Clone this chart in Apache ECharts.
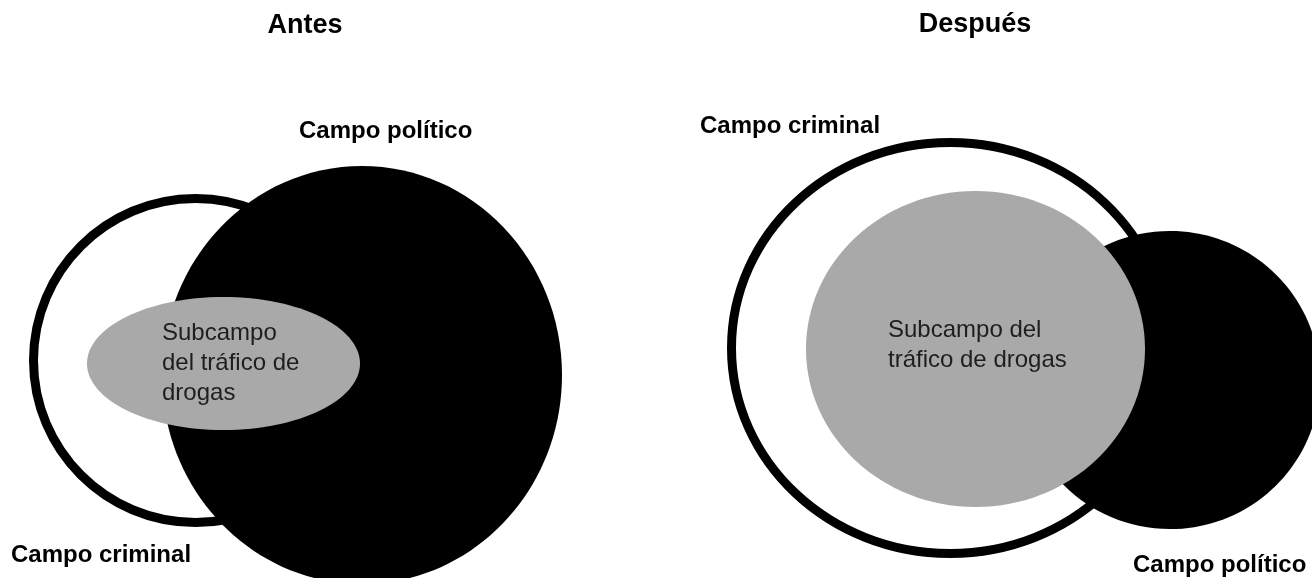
<!DOCTYPE html>
<html>
<head>
<meta charset="utf-8">
<script src="https://cdn.jsdelivr.net/npm/echarts@6/dist/echarts.min.js"></script>
<style>
html,body{margin:0;padding:0;background:#fff;}
#chart{width:1312px;height:578px;}
</style>
</head>
<body>
<div id="chart"></div>
<script>
// ---- Data (diagram units = canvas pixels) ----
const panelTitles = ['Antes', 'Después'];
const setNames = ['Campo criminal', 'Campo político', 'Subcampo del tráfico de drogas'];
const setKinds = ['ring', 'solid', 'sub'];

// "Antes" panel: centre x, centre y, radius x, radius y per set
const antesCX = [195.5, 362, 223.5];
const antesCY = [360.5, 375, 363.5];
const antesRX = [162, 200, 136.5];
const antesRY = [162, 209, 66.5];

// "Después" panel
const despuesCX = [950, 1170, 975.5];
const despuesCY = [348, 380, 349];
const despuesRX = [218.5, 150, 169.5];
const despuesRY = [205.5, 149, 158];

const subTextAntes = ['Subcampo', 'del tráfico de', 'drogas'];
const subTextDespues = ['Subcampo del', 'tráfico de drogas'];

// ---- Build ----
function rows(cx, cy, rx, ry) {
  return setKinds.map((k, i) => [cx[i], cy[i], rx[i], ry[i], i]);
}
const data = rows(antesCX, antesCY, antesRX, antesRY).concat(rows(despuesCX, despuesCY, despuesRX, despuesRY));

const chart = echarts.init(document.getElementById('chart'), null, {renderer: 'canvas'});
const FONT = '"Liberation Sans", Arial, Helvetica, sans-serif';
const boldLabel = 'bold 24px ' + FONT;

function txt(text, x, y, font, align, fill, lineHeight) {
  return {
    type: 'text', x: x, y: y, z: 10,
    style: {
      text: text, font: font, fill: fill || '#000',
      textAlign: align, textVerticalAlign: 'middle',
      align: align, verticalAlign: 'middle',
      lineHeight: lineHeight || undefined
    }
  };
}

const option = {
  animation: false,
  backgroundColor: '#ffffff',
  grid: {left: 0, right: 0, top: 0, bottom: 0},
  xAxis: {type: 'value', min: 0, max: 1312, show: false},
  yAxis: {type: 'value', min: 0, max: 578, inverse: true, show: false},
  series: [{
    type: 'custom',
    data: data,
    clip: false,
    renderItem: function (params, api) {
      const c = api.coord([api.value(0), api.value(1)]);
      const s = api.size([api.value(2), api.value(3)]);
      const kind = setKinds[api.value(4)];
      let style;
      if (kind === 'ring') style = {fill: '#ffffff', stroke: '#000000', lineWidth: 9};
      else if (kind === 'solid') style = {fill: '#000000'};
      else style = {fill: '#a9a9a9'};
      return {
        type: 'ellipse',
        shape: {cx: c[0], cy: c[1], rx: s[0], ry: s[1]},
        style: style,
        z2: api.value(4) + 1
      };
    }
  }],
  graphic: [
    txt(panelTitles[0], 305, 26, 'bold 27px ' + FONT, 'center'),
    txt(panelTitles[1], 975, 25, 'bold 27px ' + FONT, 'center'),
    txt(setNames[1], 299, 131, boldLabel, 'left'),
    txt(setNames[0], 11, 555, boldLabel, 'left'),
    txt(setNames[0], 700, 126, boldLabel, 'left'),
    txt(setNames[1], 1133, 565, boldLabel, 'left'),
    txt(subTextAntes.join('\n'), 162, 363, '24px ' + FONT, 'left', '#1e1e1e', 30),
    txt(subTextDespues.join('\n'), 888, 345, '24px ' + FONT, 'left', '#1e1e1e', 30)
  ]
};
chart.setOption(option);
</script>
</body>
</html>
